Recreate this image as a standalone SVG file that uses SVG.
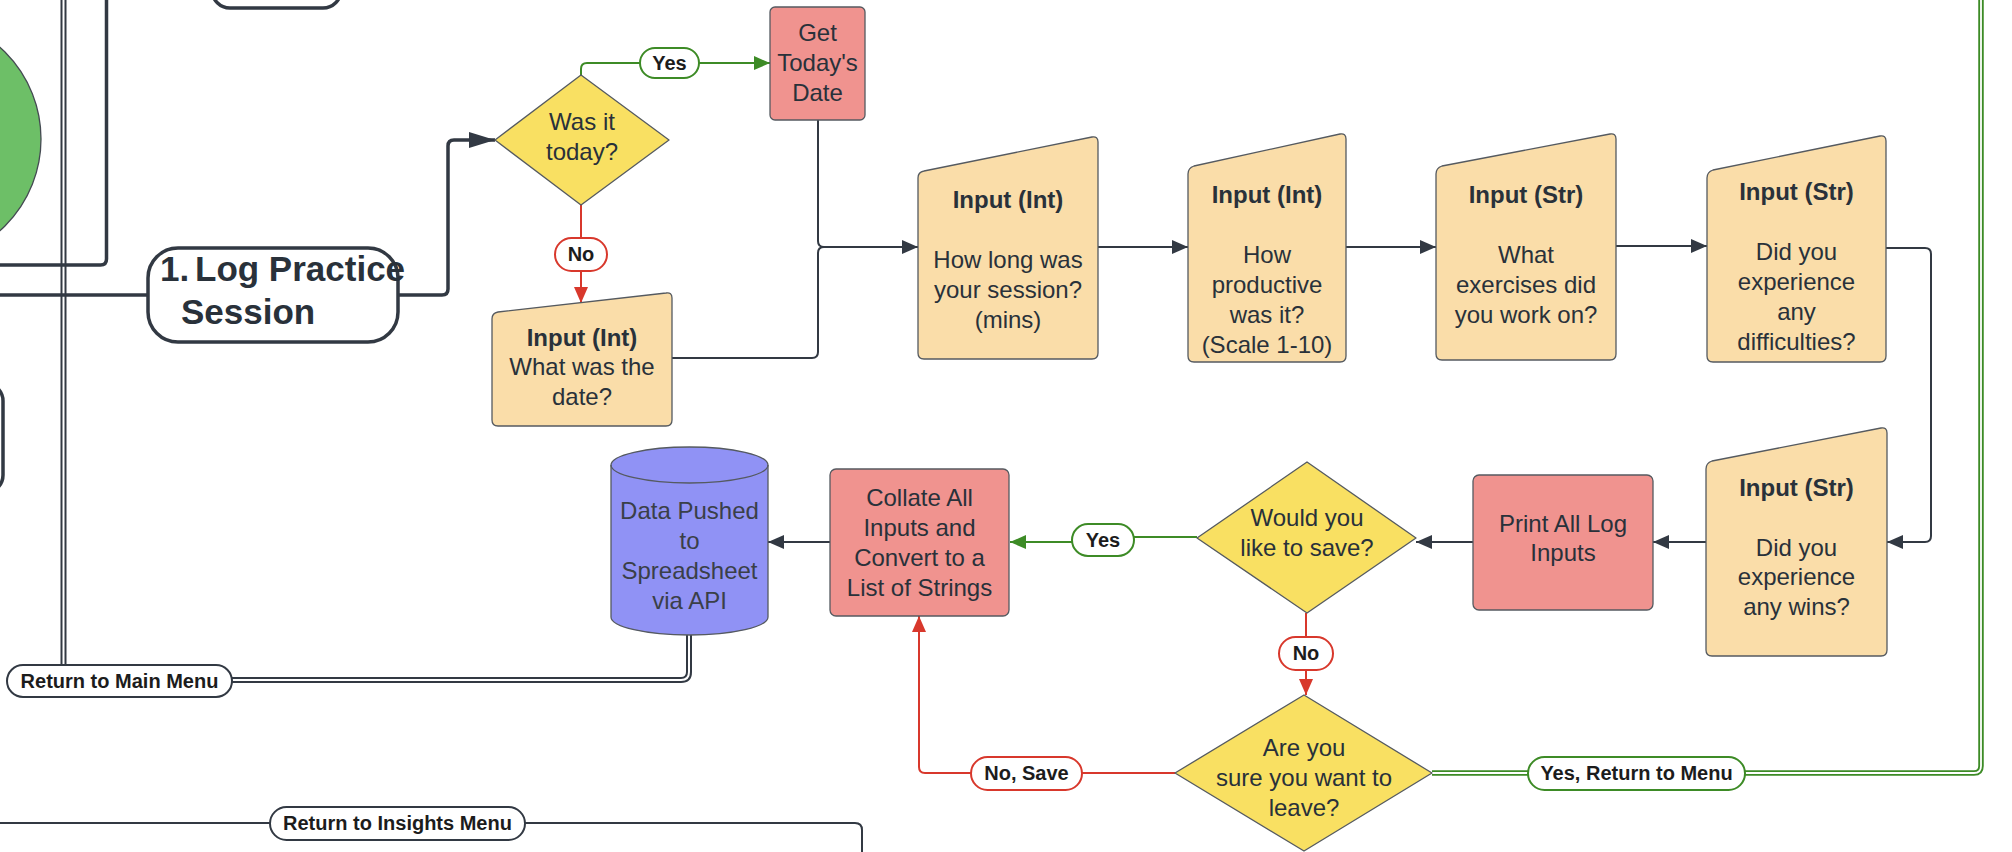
<svg xmlns="http://www.w3.org/2000/svg" width="2012" height="852" viewBox="0 0 2012 852">
<style>
.t{font-family:"Liberation Sans",Arial,sans-serif;font-size:24px;fill:#29313a;text-anchor:middle}
.b{font-weight:bold}
.lbl{font-family:"Liberation Sans",Arial,sans-serif;font-size:20px;font-weight:bold;fill:#1c1c1c;text-anchor:middle}
.inp{fill:#FADDA9;stroke:#555a60;stroke-width:1.3;stroke-linejoin:round}
.proc{fill:#F0938F;stroke:#555a60;stroke-width:1.3}
.dec{fill:#F9E062;stroke:#555a60;stroke-width:1.3;stroke-linejoin:round}
.c{fill:none;stroke:#323943;stroke-width:2}
.thick{fill:none;stroke:#323943;stroke-width:3.5}
.g{fill:none;stroke:#3d8b26;stroke-width:2}
.r{fill:none;stroke:#d8382c;stroke-width:2}
.pill{fill:#ffffff;stroke-width:2}
.dblOut{fill:none;stroke:#323943;stroke-width:6}
.dblIn{fill:none;stroke:#ffffff;stroke-width:2}
.gdOut{fill:none;stroke:#3d8b26;stroke-width:5.5}
.gdIn{fill:none;stroke:#ffffff;stroke-width:1.8}
</style>
<defs>
<marker id="ad" viewBox="0 0 16 14" refX="16" refY="7" markerWidth="16" markerHeight="14" markerUnits="userSpaceOnUse" orient="auto"><path d="M0,0 L16,7 L0,14 Z" fill="#323943"/></marker>
<marker id="ab" viewBox="0 0 26 16" refX="26" refY="8" markerWidth="26" markerHeight="16" markerUnits="userSpaceOnUse" orient="auto"><path d="M0,0 L26,8 L0,16 Z" fill="#323943"/></marker>
<marker id="ag" viewBox="0 0 16 14" refX="16" refY="7" markerWidth="16" markerHeight="14" markerUnits="userSpaceOnUse" orient="auto"><path d="M0,0 L16,7 L0,14 Z" fill="#3d8b26"/></marker>
<marker id="ar" viewBox="0 0 16 14" refX="16" refY="7" markerWidth="16" markerHeight="14" markerUnits="userSpaceOnUse" orient="auto"><path d="M0,0 L16,7 L0,14 Z" fill="#d8382c"/></marker>
</defs>
<rect x="0" y="0" width="2012" height="852" fill="#ffffff"/>

<g id="connectors">
  <path class="dblOut" d="M63.5,0 V665"/>
  <path class="dblIn" d="M63.5,0 V665"/>
  <path class="dblOut" d="M689,635 V672 Q689,680 681,680 H232"/>
  <path class="dblIn" d="M689,635 V672 Q689,680 681,680 H232"/>
  <path class="thick" d="M106.5,0 V259 Q106.5,265 100.5,265 H0"/>
  <path class="thick" d="M0,295 H148"/>
  <path class="thick" d="M398,295 H442 Q448,295 448,289 V146 Q448,140 454,140 H495" marker-end="url(#ab)"/>
  <path class="g" d="M581,75 V69 Q581,63 587,63 H770" marker-end="url(#ag)"/>
  <path class="r" d="M581,205 V303" marker-end="url(#ar)"/>
  <path class="c" d="M818,120 V241 Q818,247 824,247 H918" marker-end="url(#ad)"/>
  <path class="c" d="M672,358 H812 Q818,358 818,352 V253 Q818,247 824,247"/>
  <path class="c" d="M1098,247 H1188" marker-end="url(#ad)"/>
  <path class="c" d="M1346,247 H1436" marker-end="url(#ad)"/>
  <path class="c" d="M1616,246 H1707" marker-end="url(#ad)"/>
  <path class="c" d="M1886,248 H1925 Q1931,248 1931,254 V536 Q1931,542 1925,542 H1887" marker-end="url(#ad)"/>
  <path class="c" d="M1706,542 H1653" marker-end="url(#ad)"/>
  <path class="c" d="M1473,542 H1416" marker-end="url(#ad)"/>
  <path class="g" d="M1197,537 H1103 V542 H1010" marker-end="url(#ag)"/>
  <path class="c" d="M830,542 H768" marker-end="url(#ad)"/>
  <path class="r" d="M1306,613 V695" marker-end="url(#ar)"/>
  <path class="r" d="M1175,773 H925 Q919,773 919,767 V616" marker-end="url(#ar)"/>
  <path class="gdOut" d="M1432,773 H1974 Q1981,773 1981,766 V0"/>
  <path class="gdIn" d="M1432,773 H1974 Q1981,773 1981,766 V0"/>
  <path class="c" d="M0,823 H855 Q862,823 862,830 V852"/>
  <g id="lbl-yes1"><rect class="pill" x="640" y="48" width="59" height="30" rx="15" stroke="#3d8b26"/><text class="lbl" x="669.5" y="70">Yes</text></g>
  <g id="lbl-no1"><rect class="pill" x="555" y="238" width="52" height="33" rx="16.5" stroke="#d8382c"/><text class="lbl" x="581" y="261">No</text></g>
  <g id="lbl-yes2"><rect class="pill" x="1072" y="524" width="62" height="32" rx="16" stroke="#3d8b26"/><text class="lbl" x="1103" y="547">Yes</text></g>
  <g id="lbl-no2"><rect class="pill" x="1279" y="637" width="54" height="33" rx="16.5" stroke="#d8382c"/><text class="lbl" x="1306" y="660">No</text></g>
  <g id="lbl-nosave"><rect class="pill" x="971" y="757" width="111" height="33" rx="16.5" stroke="#d8382c"/><text class="lbl" x="1026.5" y="780">No, Save</text></g>
  <g id="lbl-yesret"><rect class="pill" x="1528" y="757" width="217" height="33" rx="16.5" stroke="#3d8b26"/><text class="lbl" x="1636.5" y="780">Yes, Return to Menu</text></g>
  <g id="lbl-main"><rect class="pill" x="7" y="665" width="225" height="32" rx="16" stroke="#323943"/><text class="lbl" x="119.5" y="688">Return to Main Menu</text></g>
  <g id="lbl-insights"><rect class="pill" x="270" y="807" width="255" height="33" rx="16.5" stroke="#323943"/><text class="lbl" x="397.5" y="830">Return to Insights Menu</text></g>
</g>

<g id="top-partial"><rect x="212" y="-60" width="129" height="68" rx="18" fill="#ffffff" stroke="#323943" stroke-width="3.5"/></g>
<g id="green-circle"><circle cx="-82" cy="139" r="123" fill="#6DBF67" stroke="#444a52" stroke-width="1.3"/></g>
<g id="left-partial"><rect x="-150" y="383" width="153" height="110" rx="18" fill="#ffffff" stroke="#323943" stroke-width="3.5"/></g>

<g id="log-practice">
  <rect x="148" y="248" width="250" height="94" rx="30" fill="#ffffff" stroke="#323943" stroke-width="3.5"/>
  <text class="t b" style="font-size:35px;text-anchor:start" x="160" y="281">1.</text>
  <text class="t b" style="font-size:35px;text-anchor:start" x="195" y="281">Log Practice</text>
  <text class="t b" style="font-size:35px;text-anchor:start" x="181" y="324">Session</text>
</g>

<g id="was-it-today">
  <path class="dec" d="M581,75 L669,140 L581,205 L495,140 Z"/>
  <text class="t" x="582" y="130">Was it</text>
  <text class="t" x="582" y="160">today?</text>
</g>

<g id="get-date">
  <rect class="proc" x="770" y="7" width="95" height="113" rx="5"/>
  <text class="t" x="817.5" y="41">Get</text>
  <text class="t" x="817.5" y="71">Today's</text>
  <text class="t" x="817.5" y="101">Date</text>
</g>

<g id="input-date">
  <path class="inp" d="M492,319 Q492,313 498,312 L666,293 Q672,292 672,298 L672,420 Q672,426 666,426 L498,426 Q492,426 492,420 Z"/>
  <text class="t b" x="582" y="346">Input (Int)</text>
  <text class="t" x="582" y="375">What was the</text>
  <text class="t" x="582" y="405">date?</text>
</g>

<g id="input-howlong">
  <path class="inp" d="M918,178 Q918,172 924,171 L1092,137 Q1098,136 1098,142 L1098,353 Q1098,359 1092,359 L924,359 Q918,359 918,353 Z"/>
  <text class="t b" x="1008" y="208">Input (Int)</text>
  <text class="t" x="1008" y="268">How long was</text>
  <text class="t" x="1008" y="298">your session?</text>
  <text class="t" x="1008" y="328">(mins)</text>
</g>

<g id="input-productive">
  <path class="inp" d="M1188,174 Q1188,168 1194,166 L1340,134 Q1346,133 1346,139 L1346,356 Q1346,362 1340,362 L1194,362 Q1188,362 1188,356 Z"/>
  <text class="t b" x="1267" y="203">Input (Int)</text>
  <text class="t" x="1267" y="263">How</text>
  <text class="t" x="1267" y="293">productive</text>
  <text class="t" x="1267" y="323">was it?</text>
  <text class="t" x="1267" y="353">(Scale 1-10)</text>
</g>

<g id="input-exercises">
  <path class="inp" d="M1436,174 Q1436,168 1442,166 L1610,134 Q1616,133 1616,139 L1616,354 Q1616,360 1610,360 L1442,360 Q1436,360 1436,354 Z"/>
  <text class="t b" x="1526" y="203">Input (Str)</text>
  <text class="t" x="1526" y="263">What</text>
  <text class="t" x="1526" y="293">exercises did</text>
  <text class="t" x="1526" y="323">you work on?</text>
</g>

<g id="input-difficulties">
  <path class="inp" d="M1707,178 Q1707,172 1713,170 L1880,136 Q1886,135 1886,141 L1886,356 Q1886,362 1880,362 L1713,362 Q1707,362 1707,356 Z"/>
  <text class="t b" x="1796.5" y="200">Input (Str)</text>
  <text class="t" x="1796.5" y="260">Did you</text>
  <text class="t" x="1796.5" y="290">experience</text>
  <text class="t" x="1796.5" y="320">any</text>
  <text class="t" x="1796.5" y="350">difficulties?</text>
</g>

<g id="input-wins">
  <path class="inp" d="M1706,469 Q1706,463 1712,461 L1881,428 Q1887,427 1887,433 L1887,650 Q1887,656 1881,656 L1712,656 Q1706,656 1706,650 Z"/>
  <text class="t b" x="1796.5" y="496">Input (Str)</text>
  <text class="t" x="1796.5" y="556">Did you</text>
  <text class="t" x="1796.5" y="585">experience</text>
  <text class="t" x="1796.5" y="615">any wins?</text>
</g>

<g id="print-inputs">
  <rect class="proc" x="1473" y="475" width="180" height="135" rx="6"/>
  <text class="t" x="1563" y="532">Print All Log</text>
  <text class="t" x="1563" y="561">Inputs</text>
</g>

<g id="would-save">
  <path class="dec" d="M1307,462 L1416,538 L1307,613 L1197,538 Z"/>
  <text class="t" x="1307" y="526">Would you</text>
  <text class="t" x="1307" y="556">like to save?</text>
</g>

<g id="collate">
  <rect class="proc" x="830" y="469" width="179" height="147" rx="6"/>
  <text class="t" x="919.5" y="506">Collate All</text>
  <text class="t" x="919.5" y="536">Inputs and</text>
  <text class="t" x="919.5" y="566">Convert to a</text>
  <text class="t" x="919.5" y="596">List of Strings</text>
</g>

<g id="data-pushed">
  <path d="M611,465 A78.5,18 0 0 1 768,465 V617 A78.5,18 0 0 1 611,617 Z" fill="#9092F5" stroke="#555a60" stroke-width="1.3"/>
  <path d="M611,465 A78.5,18 0 0 0 768,465" fill="none" stroke="#555a60" stroke-width="1.3"/>
  <text class="t" x="689.5" y="519" style="fill:#3a3f48">Data Pushed</text>
  <text class="t" x="689.5" y="549" style="fill:#3a3f48">to</text>
  <text class="t" x="689.5" y="579" style="fill:#3a3f48">Spreadsheet</text>
  <text class="t" x="689.5" y="609" style="fill:#3a3f48">via API</text>
</g>

<g id="are-you-sure">
  <path class="dec" d="M1304,695 L1432,773 L1304,851 L1175,773 Z"/>
  <text class="t" x="1304" y="756">Are you</text>
  <text class="t" x="1304" y="786">sure you want to</text>
  <text class="t" x="1304" y="816">leave?</text>
</g>
</svg>
